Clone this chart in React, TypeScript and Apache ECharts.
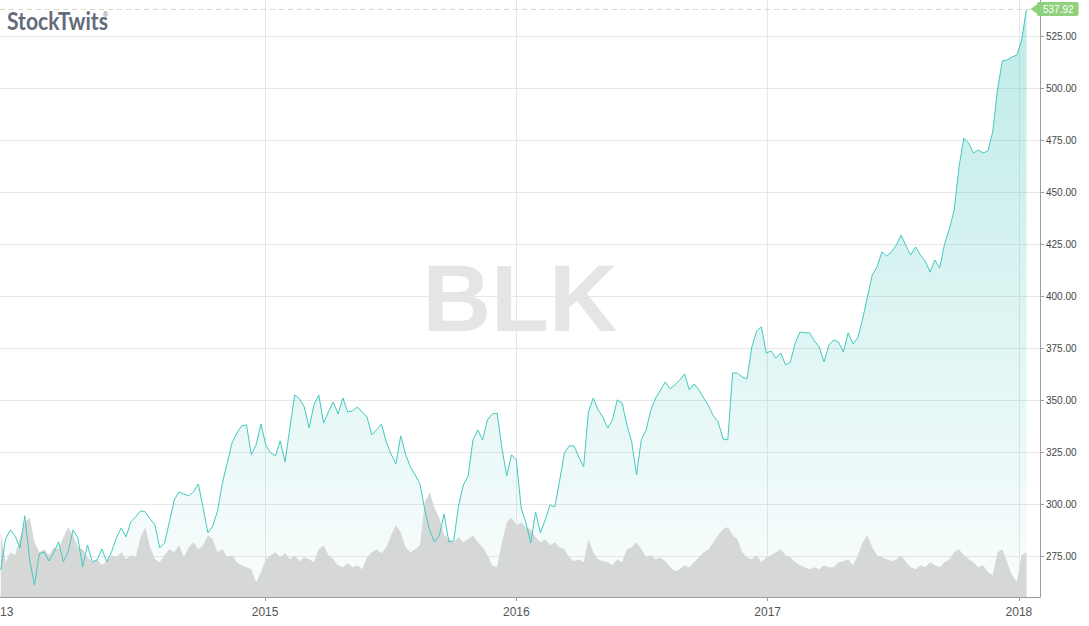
import React, { useEffect, useRef } from 'react';
import * as echarts from 'echarts';

// ---- data ----
const tickerSymbol = 'BLK';
const brandName = 'StockTwits';
const startDate = '2013-12-13'; // first weekly close shown, one value per week
const priceValues: number[] = [
  268.5, 283.4, 287.7, 284.8, 279.1, 294.5, 273.3, 261.3, 276.2, 277.2,
  272.8, 276.7, 282.0, 272.4, 277.2, 287.7, 283.9, 270.0, 280.5, 272.4,
  273.3, 278.6, 272.4, 277.2, 283.9, 288.7, 284.4, 291.6, 294.0, 296.9,
  296.4, 293.0, 290.1, 279.1, 281.5, 291.6, 302.1, 306.0, 305.0, 304.1,
  306.0, 309.8, 298.3, 286.3, 289.6, 296.9, 310.3, 319.9, 329.5, 334.3,
  337.7, 338.2, 323.8, 328.6, 338.6, 328.6, 324.7, 323.3, 330.5, 320.4,
  336.7, 352.6, 350.7, 346.8, 336.7, 347.8, 352.6, 339.1, 344.4, 349.2,
  343.4, 351.1, 344.4, 344.9, 346.8, 344.4, 342.0, 333.4, 335.8, 338.6,
  330.0, 324.2, 319.4, 332.9, 324.2, 318.0, 314.1, 309.8, 297.3, 287.7,
  282.0, 284.8, 295.4, 282.0, 282.4, 299.3, 309.3, 313.7, 331.0, 335.8,
  331.0, 340.6, 343.4, 343.9, 327.1, 313.7, 323.8, 321.4, 298.3, 291.1,
  281.5, 296.4, 286.3, 292.5, 299.7, 298.8, 311.3, 324.7, 328.1, 328.1,
  322.8, 318.0, 344.4, 351.1, 345.4, 342.0, 336.7, 340.6, 350.2, 348.7,
  338.2, 330.0, 314.1, 331.0, 335.8, 345.4, 351.1, 355.0, 358.8, 355.5,
  357.4, 359.8, 362.7, 355.0, 357.9, 355.0, 351.1, 347.3, 342.5, 339.6,
  331.4, 331.0, 363.1, 363.1, 361.2, 360.3, 375.6, 383.3, 385.2, 372.7,
  373.7, 370.3, 372.7, 367.0, 368.4, 377.5, 382.8, 382.4, 382.4, 378.5,
  375.6, 368.4, 376.6, 379.0, 378.0, 373.2, 382.4, 377.1, 380.0, 389.1,
  399.6, 410.2, 414.1, 421.3, 419.3, 421.3, 424.6, 429.4, 424.1, 419.8,
  423.7, 419.8, 416.9, 411.6, 417.4, 413.6, 425.1, 432.3, 441.4, 462.1,
  476.0, 473.6, 468.8, 470.2, 468.8, 469.8, 478.9, 499.5, 513.0, 513.5,
  514.9, 515.9, 523.1, 537.92,
];
// weekly volume, thousands of shares
const volumeValues: number[] = [
  1300, 700, 900, 840, 1200, 1500, 1600, 1100, 900, 960,
  840, 1000, 960, 1200, 1400, 1240, 1000, 960, 800, 700,
  760, 640, 720, 840, 800, 900, 760, 840, 800, 1200,
  1400, 1000, 760, 700, 840, 960, 900, 1040, 800, 1000,
  1100, 960, 1040, 1240, 1160, 900, 960, 800, 840, 700,
  640, 600, 560, 300, 500, 760, 840, 900, 800, 880,
  760, 840, 720, 800, 760, 700, 960, 1040, 840, 760,
  640, 600, 680, 600, 640, 560, 800, 900, 960, 880,
  1000, 1240, 1440, 1300, 1000, 900, 960, 1040, 1900, 2100,
  1800, 1600, 1240, 1160, 1100, 1200, 1100, 1160, 1240, 1100,
  1000, 840, 640, 600, 1100, 1500, 1600, 1440, 1500, 1400,
  1360, 1200, 1100, 1160, 1040, 1100, 1000, 960, 800, 720,
  760, 700, 1160, 900, 760, 720, 700, 640, 760, 700,
  960, 1000, 1100, 960, 800, 840, 760, 800, 720, 600,
  520, 560, 640, 600, 700, 800, 900, 960, 1100, 1240,
  1360, 1400, 1240, 1160, 900, 800, 760, 840, 700, 800,
  840, 900, 960, 840, 800, 700, 640, 600, 560, 600,
  560, 640, 600, 600, 700, 720, 760, 640, 840, 1100,
  1240, 1000, 840, 800, 760, 720, 760, 840, 700, 600,
  560, 640, 600, 700, 640, 600, 700, 760, 900, 960,
  840, 760, 700, 600, 640, 500, 440, 900, 960, 700,
  440, 300, 840, 900,
];
const priceTicks = [275, 300, 325, 350, 375, 400, 425, 450, 475, 500, 525];
const yearTicks = [2015, 2016, 2017, 2018];
const xMin = 2013.945;
const xMax = 2018.084;
const yMin = 255.5;
const yMax = 542.3;
const volumeMax = 12000;

const DAY = 86400000;
function toDecimalYear(t: number): number {
  const y = new Date(t).getUTCFullYear();
  const a = Date.UTC(y, 0, 1);
  const b = Date.UTC(y + 1, 0, 1);
  return y + (t - a) / (b - a);
}

export default function App() {
  const ref = useRef<HTMLDivElement>(null);
  useEffect(() => {
    if (!ref.current) return;
    const chart = echarts.init(ref.current, null, { renderer: 'svg' });
    const t0 = Date.parse(startDate + 'T00:00:00Z');
    const xs = priceValues.map((_, i) => toDecimalYear(t0 + i * 7 * DAY));
    const priceData = priceValues.map((v, i) => [xs[i], v]);
    const volumeData = volumeValues.map((v, i) => [xs[i], v]);
    const lastPrice = priceValues[priceValues.length - 1];
    const font = '"Liberation Sans", Arial, Helvetica, sans-serif';
    const tagGreen = '#8fd17c';

    chart.setOption({
      animation: false,
      backgroundColor: '#ffffff',
      grid: { left: 0, right: 49, top: 0, bottom: 29, containLabel: false, outerBoundsMode: 'none' },
      xAxis: {
        type: 'value',
        min: xMin,
        max: xMax,
        axisLine: { show: true, lineStyle: { color: '#9c9c9c', width: 1 } },
        axisTick: { show: true, length: 4, lineStyle: { color: '#9c9c9c' }, customValues: yearTicks },
        axisLabel: {
          customValues: [xMin, ...yearTicks],
          formatter: (v: number) => String(Math.floor(v + 1e-6)),
          color: '#555555',
          fontSize: 12,
          fontFamily: font,
          margin: 9,
          hideOverlap: false,
        },
        splitLine: { show: true, lineStyle: { color: '#e7e7e7', width: 1 } },
      },
      yAxis: [
        {
          type: 'value',
          position: 'right',
          min: yMin,
          max: yMax,
          axisLine: { show: true, lineStyle: { color: '#9c9c9c', width: 1 } },
          axisTick: { show: true, length: 4, lineStyle: { color: '#9c9c9c' }, customValues: priceTicks },
          axisLabel: {
            customValues: priceTicks,
            formatter: (v: number) => v.toFixed(2),
            color: '#444444',
            fontSize: 10,
            fontFamily: font,
            margin: 6,
          },
          splitLine: { show: true, lineStyle: { color: '#e7e7e7', width: 1 } },
        },
        {
          type: 'value',
          min: 0,
          max: volumeMax,
          show: false,
          splitLine: { show: false },
        },
      ],
      graphic: [
        {
          type: 'text',
          x: 520,
          y: 298,
          z: 0,
          silent: true,
          style: {
            text: tickerSymbol,
            fill: '#e5e5e8',
            fontSize: 95,
            fontWeight: 'bold',
            fontFamily: font,
            textAlign: 'center',
            textVerticalAlign: 'middle',
          },
        },
        {
          type: 'text',
          x: 7,
          y: 9,
          scaleX: 0.88,
          z: 10,
          silent: true,
          style: {
            text: brandName,
            fill: '#646b79',
            fontSize: 24,
            fontFamily: 'Lato, "Open Sans", sans-serif',
            fontWeight: 'bold',
          },
        },
        {
          type: 'text',
          x: 103,
          y: 11,
          z: 10,
          silent: true,
          style: { text: '®', fill: '#646b79', fontSize: 7, fontFamily: font },
        },
      ],
      series: [
        {
          name: 'area',
          type: 'line',
          data: priceData,
          symbol: 'none',
          silent: true,
          z: 1,
          lineStyle: { width: 0, opacity: 0 },
          areaStyle: {
            color: new echarts.graphic.LinearGradient(0, 0, 0, 1, [
              { offset: 0, color: 'rgba(60,196,186,0.48)' },
              { offset: 1, color: 'rgba(60,196,186,0.04)' },
            ]),
          },
        },
        {
          name: 'volume',
          type: 'line',
          yAxisIndex: 1,
          data: volumeData,
          symbol: 'none',
          silent: true,
          z: 2,
          lineStyle: { width: 0, opacity: 0 },
          areaStyle: { color: '#d6d7d7', opacity: 1 },
        },
        {
          name: tickerSymbol,
          type: 'line',
          data: priceData,
          symbol: 'none',
          silent: true,
          z: 3,
          lineStyle: { color: '#45c8bf', width: 1 },
          markLine: {
            silent: true,
            symbol: ['none', 'none'],
            lineStyle: { type: [5, 4], color: '#d6dac2', width: 1 },
            label: {
              show: true,
              position: 'end',
              distance: -3,
              formatter: (p: any) => Number(p.value).toFixed(2),
              color: '#ffffff',
              backgroundColor: tagGreen,
              padding: [2, 5, 2, 6],
              borderRadius: 2,
              fontSize: 10,
              fontFamily: font,
            },
            data: [{ yAxis: lastPrice }],
          },
          markPoint: {
            silent: true,
            symbol: 'triangle',
            symbolSize: [10, 7],
            symbolRotate: 90,
            symbolOffset: [-6, 0],
            itemStyle: { color: tagGreen },
            label: { show: false },
            data: [{ coord: [xMax, lastPrice] }],
          },
        },
      ],
    });
    return () => chart.dispose();
  }, []);
  return (
    <div
      ref={ref}
      style={{ position: 'fixed', left: 0, top: 0, width: 1089, height: 626, background: '#fff' }}
    />
  );
}
